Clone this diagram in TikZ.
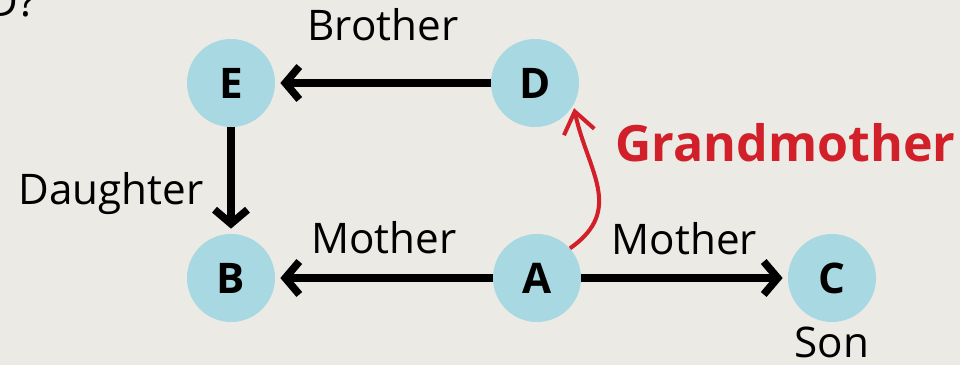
\documentclass[tikz,border=0pt]{standalone}
\usepackage{fontspec}
\setmainfont{Open Sans}
\usepackage{tikz}
\usetikzlibrary{arrows.meta, positioning}
\definecolor{paper}{RGB}{236,234,229}
\definecolor{bubble}{RGB}{168,216,226}
\definecolor{kinred}{RGB}{210,32,42}
\tikzstyle{person} = [circle, minimum size=1.76cm, inner sep=0pt, fill=bubble, font=\bfseries\fontsize{24}{24}\selectfont]
\tikzstyle{tag} = [inner sep=0pt, font=\fontsize{24}{24}\selectfont]
\tikzstyle{arrow} = [line width=4.3pt, -{Straight Barb[length=0.28cm, width=0.66cm]}, shorten >=0.1cm]
\tikzstyle{redarrow} = [kinred, line width=2.3pt, -{Straight Barb[length=0.42cm, width=0.62cm]}]

\begin{document}
\begin{tikzpicture}[node distance=3.9cm]
        \path [fill=paper, use as bounding box] (0,0) rectangle (19.2,7.3);
        \node (q) [tag, anchor=base east] at (0.74,6.96) {D?};
        \node (b) [person] at (4.62,1.74) {B};
        \node (e) [person, above of=b] {E};
        \node (a) [person, right of=b, xshift=2.22cm] {A};
        \node (c) [person, right of=a, xshift=2cm] {C};
        \node (d) [person, above of=a, xshift=-0.04cm] {D};
        \node (son) [tag, below=0.08cm of c] {Son};
        \node (gm) [tag, text=kinred, anchor=base west, font=\bfseries\fontsize{28.5}{28.5}\selectfont] at (12.3,4.06) {Grandmother};
        \draw [arrow] (d) -- node[tag, above=0.76cm] {Brother} (e);
        \draw [arrow] (e) -- node[tag, left=0.48cm, pos=0.62] {Daughter} (b);
        \draw [arrow] (a) -- node[tag, above=0.4cm] {Mother} (b);
        \draw [arrow] (a) -- node[tag, above=0.38cm] {Mother} (c);
        \draw [redarrow, shorten >=0.06cm] (a.42) to[out=35, in=-78, looseness=1.2] (d.-30);
    \end{tikzpicture}
\end{document}
